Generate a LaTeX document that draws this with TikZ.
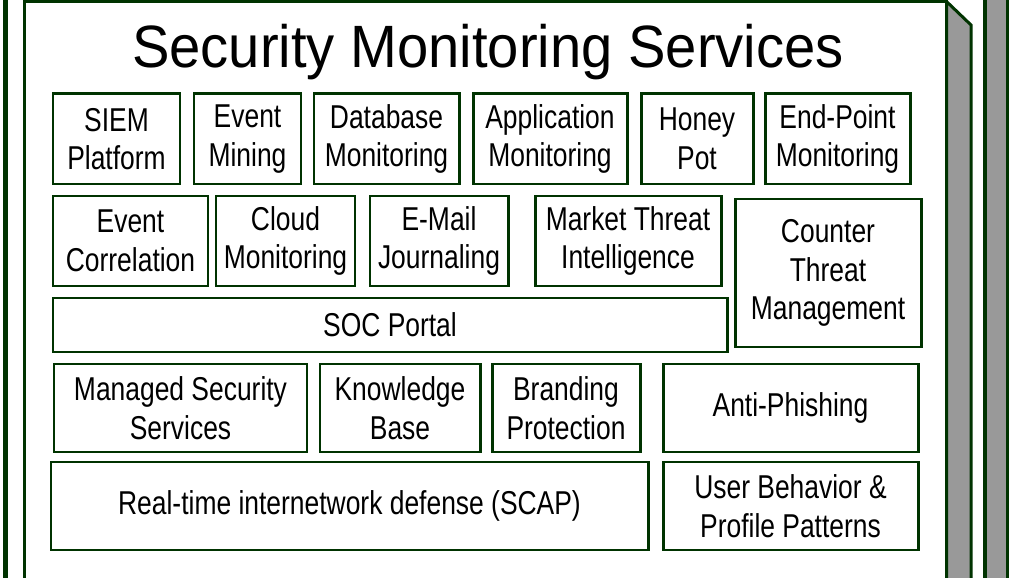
\documentclass[tikz,border=0pt]{standalone}
\usepackage{fontspec}
\setmainfont{Liberation Sans}[FakeStretch=0.8]
\newfontfamily\titlefont{Liberation Sans}[FakeStretch=0.94]
\usepackage{xcolor}
\usepackage{tikz}

\definecolor{framegreen}{RGB}{0,51,0}
\definecolor{sidegray}{RGB}{153,153,153}

\begin{document}
\begin{tikzpicture}[
    svcbox/.style={draw=framegreen, line width=1.7pt, fill=white, align=center,
        inner sep=0pt, font=\fontsize{18.8}{22}\selectfont}
]
    \clip (0,0) rectangle (20.18,-11.56);

    % Back panel and its gray side
    \draw[framegreen, line width=1.7pt, fill=sidegray] (19.7,1) rectangle (20.14,-12);
    \draw[framegreen, line width=2.8pt, fill=white] (0.11,1) rectangle (19.7,-12);

    % Front panel and its gray side
    \draw[framegreen, line width=1.7pt, fill=sidegray]
        (18.93,-0.03) -- (19.42,-0.5) -- (19.42,-12) -- (18.93,-12) -- cycle;
    \draw[framegreen, line width=1.7pt, fill=white]
        (0.49,-12) -- (0.49,-0.03) -- (18.93,-0.03) -- (18.93,-12);

    % Title
    \node[anchor=base, font=\titlefont\fontsize{34}{40}\selectfont] (title) at (9.76,-1.36)
        {Security Monitoring Services};

    % First row
    \node[svcbox, minimum width=2.54cm, minimum height=1.8cm] (siem) at (2.33,-2.78) {SIEM\\Platform};
    \node[svcbox, minimum width=2.14cm, minimum height=1.8cm] (mining) at (4.95,-2.78) {Event\\Mining};
    \node[svcbox, minimum width=2.9cm, minimum height=1.8cm] (dbmon) at (7.73,-2.78) {Database\\Monitoring};
    \node[svcbox, minimum width=3.08cm, minimum height=1.8cm] (appmon) at (11.0,-2.78) {Application\\Monitoring};
    \node[svcbox, minimum width=2.24cm, minimum height=1.8cm] (honey) at (13.94,-2.78) {Honey\\Pot};
    \node[svcbox, minimum width=2.9cm, minimum height=1.8cm] (endpoint) at (16.75,-2.78) {End-Point\\Monitoring};

    % Second row
    \node[svcbox, minimum width=3.1cm, minimum height=1.8cm] (correl) at (2.61,-4.82) {Event\\Correlation};
    \node[svcbox, minimum width=2.78cm, minimum height=1.8cm] (cloud) at (5.71,-4.82) {Cloud\\Monitoring};
    \node[svcbox, minimum width=2.76cm, minimum height=1.8cm] (email) at (8.78,-4.82) {E-Mail\\Journaling};
    \node[svcbox, minimum width=3.72cm, minimum height=1.8cm] (market) at (12.56,-4.82) {Market Threat\\Intelligence};
    \node[svcbox, minimum width=3.72cm, minimum height=2.96cm] (counter) at (16.56,-5.46) {Counter\\Threat\\Management};

    % Portal
    \node[svcbox, minimum width=13.48cm, minimum height=1.08cm] (soc) at (7.8,-6.5) {SOC Portal};

    % Fourth row
    \node[svcbox, minimum width=5.06cm, minimum height=1.76cm] (managed) at (3.61,-8.16) {Managed Security\\Services};
    \node[svcbox, minimum width=3.2cm, minimum height=1.76cm] (kbase) at (8.0,-8.16) {Knowledge\\Base};
    \node[svcbox, minimum width=2.96cm, minimum height=1.76cm] (brand) at (11.32,-8.16) {Branding\\Protection};
    \node[svcbox, minimum width=5.1cm, minimum height=1.76cm] (phish) at (15.81,-8.16) {Anti-Phishing};

    % Last row
    \node[svcbox, minimum width=11.94cm, minimum height=1.76cm] (scap) at (6.99,-10.12) {Real-time internetwork defense (SCAP)};
    \node[svcbox, minimum width=5.1cm, minimum height=1.76cm] (behavior) at (15.81,-10.12) {User Behavior \&\\Profile Patterns};
\end{tikzpicture}
\end{document}
